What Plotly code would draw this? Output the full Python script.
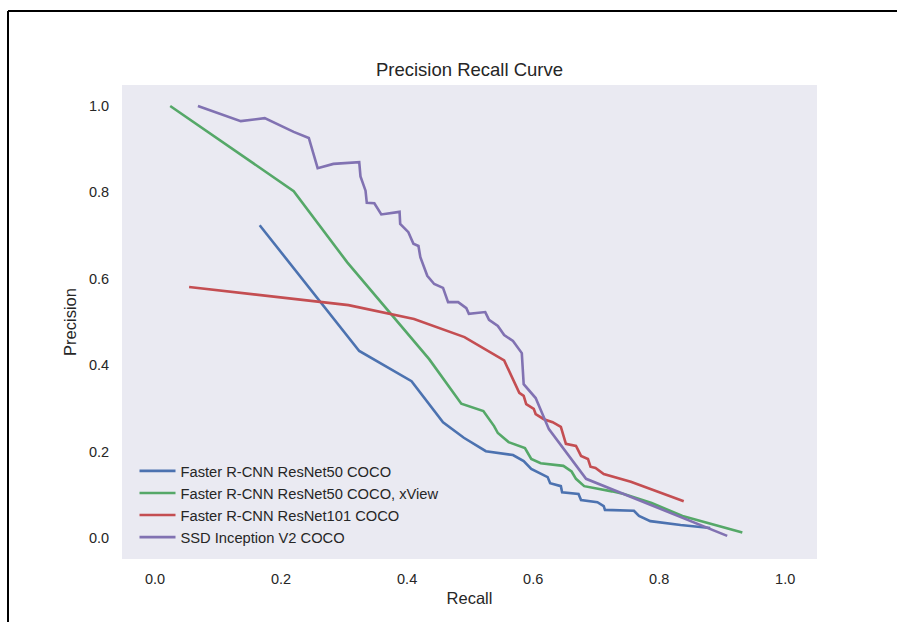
import plotly.graph_objects as go

# ---- data ----
blue_x = [0.166, 0.324, 0.407, 0.457, 0.49, 0.525, 0.568, 0.585, 0.597, 0.623, 0.627, 0.644, 0.646,
          0.672, 0.676, 0.702, 0.712, 0.714, 0.76, 0.768, 0.786, 0.834, 0.881]
blue_y = [0.724, 0.433, 0.363, 0.268, 0.232, 0.201, 0.192, 0.178, 0.160, 0.141, 0.127, 0.120, 0.106,
          0.102, 0.088, 0.083, 0.074, 0.065, 0.063, 0.051, 0.039, 0.030, 0.023]

green_x = [0.024, 0.220, 0.305, 0.435, 0.486, 0.521, 0.538, 0.544, 0.561, 0.587, 0.597, 0.612, 0.648,
           0.661, 0.668, 0.681, 0.725, 0.744, 0.788, 0.810, 0.837, 0.932]
green_y = [1.0, 0.803, 0.638, 0.414, 0.311, 0.294, 0.259, 0.243, 0.222, 0.208, 0.183, 0.173, 0.167,
           0.154, 0.137, 0.120, 0.108, 0.102, 0.081, 0.067, 0.051, 0.013]

red_x = [0.054, 0.233, 0.307, 0.411, 0.491, 0.554, 0.578, 0.585, 0.589, 0.601, 0.604, 0.617, 0.631,
         0.644, 0.647, 0.652, 0.668, 0.676, 0.687, 0.691, 0.699, 0.712, 0.755, 0.839]
red_y = [0.581, 0.551, 0.539, 0.507, 0.465, 0.411, 0.336, 0.329, 0.310, 0.299, 0.287, 0.275, 0.268,
         0.257, 0.241, 0.218, 0.213, 0.190, 0.183, 0.165, 0.162, 0.148, 0.130, 0.085]

purple_x = [0.068, 0.136, 0.174, 0.220, 0.244, 0.258, 0.283, 0.324, 0.326, 0.334, 0.336, 0.348, 0.359,
            0.388, 0.389, 0.402, 0.410, 0.418, 0.421, 0.432, 0.443, 0.457, 0.465, 0.481, 0.494, 0.498,
            0.524, 0.530, 0.544, 0.554, 0.568, 0.582, 0.585, 0.604, 0.625, 0.684, 0.908]
purple_y = [1.0, 0.965, 0.972, 0.940, 0.926, 0.856, 0.866, 0.870, 0.837, 0.804, 0.776, 0.775, 0.749,
            0.755, 0.727, 0.708, 0.681, 0.676, 0.650, 0.607, 0.588, 0.579, 0.546, 0.546, 0.532, 0.519,
            0.523, 0.505, 0.491, 0.470, 0.456, 0.428, 0.356, 0.324, 0.252, 0.137, 0.005]

series_names = ["Faster R-CNN ResNet50 COCO", "Faster R-CNN ResNet50 COCO, xView",
                "Faster R-CNN ResNet101 COCO", "SSD Inception V2 COCO"]
series_colors = ["#4C72B0", "#55A868", "#C44E52", "#8172B2"]
tick_vals = [0.0, 0.2, 0.4, 0.6, 0.8, 1.0]
tick_text = ["0.0", "0.2", "0.4", "0.6", "0.8", "1.0"]

FONT = "Liberation Sans, Arial, sans-serif"
TXT = "#262626"

fig = go.Figure()
for xs, ys, name, col in zip([blue_x, green_x, red_x, purple_x],
                             [blue_y, green_y, red_y, purple_y],
                             series_names, series_colors):
    fig.add_trace(go.Scatter(x=xs, y=ys, mode="lines", name=name,
                             line=dict(color=col, width=2.6)))

W, H = 897, 622
L, R, T, B = 122, 80, 85, 63
pw, ph = W - L - R, H - T - B

def px2paper_x(px):
    return (px - L) / pw

def px2paper_y(py):
    return (H - B - py) / ph

# outer black frame (partially visible)
fig.add_shape(type="line", xref="paper", yref="paper",
              x0=px2paper_x(8), x1=px2paper_x(905), y0=px2paper_y(11), y1=px2paper_y(11),
              line=dict(color="black", width=2))
fig.add_shape(type="line", xref="paper", yref="paper",
              x0=px2paper_x(8), x1=px2paper_x(8), y0=px2paper_y(11), y1=px2paper_y(630),
              line=dict(color="black", width=2))

fig.update_layout(
    width=W, height=H,
    margin=dict(l=L, r=R, t=T, b=B),
    paper_bgcolor="white",
    plot_bgcolor="#EAEAF2",
    font=dict(family=FONT, color=TXT, size=14),
    title=dict(text="Precision Recall Curve", x=0.5, xref="paper", xanchor="center",
               y=1 - 70 / H, yanchor="middle", font=dict(size=18.5, color=TXT)),
    xaxis=dict(range=[-0.0525, 1.0505], tickvals=tick_vals, ticktext=tick_text,
               showgrid=False, zeroline=False, showline=False,
               ticks="outside", ticklen=7, tickcolor="rgba(0,0,0,0)",
               tickfont=dict(size=14.5, color=TXT),
               title=dict(text="Recall", font=dict(size=16.5, color=TXT), standoff=6)),
    yaxis=dict(range=[-0.0486, 1.0486], tickvals=tick_vals, ticktext=tick_text,
               showgrid=False, zeroline=False, showline=False,
               ticks="outside", ticklen=9, tickcolor="rgba(0,0,0,0)",
               tickfont=dict(size=14.5, color=TXT),
               title=dict(text="Precision", font=dict(size=16.5, color=TXT), standoff=8)),
    legend=dict(x=0.018, y=0.011, xanchor="left", yanchor="bottom",
                bgcolor="rgba(0,0,0,0)", borderwidth=0,
                font=dict(size=14.7, color=TXT), tracegroupgap=0, itemwidth=36),
    showlegend=True,
)

fig.write_html("out.html", config={"displayModeBar": False},
               post_script="document.body.style.margin='0px';")
